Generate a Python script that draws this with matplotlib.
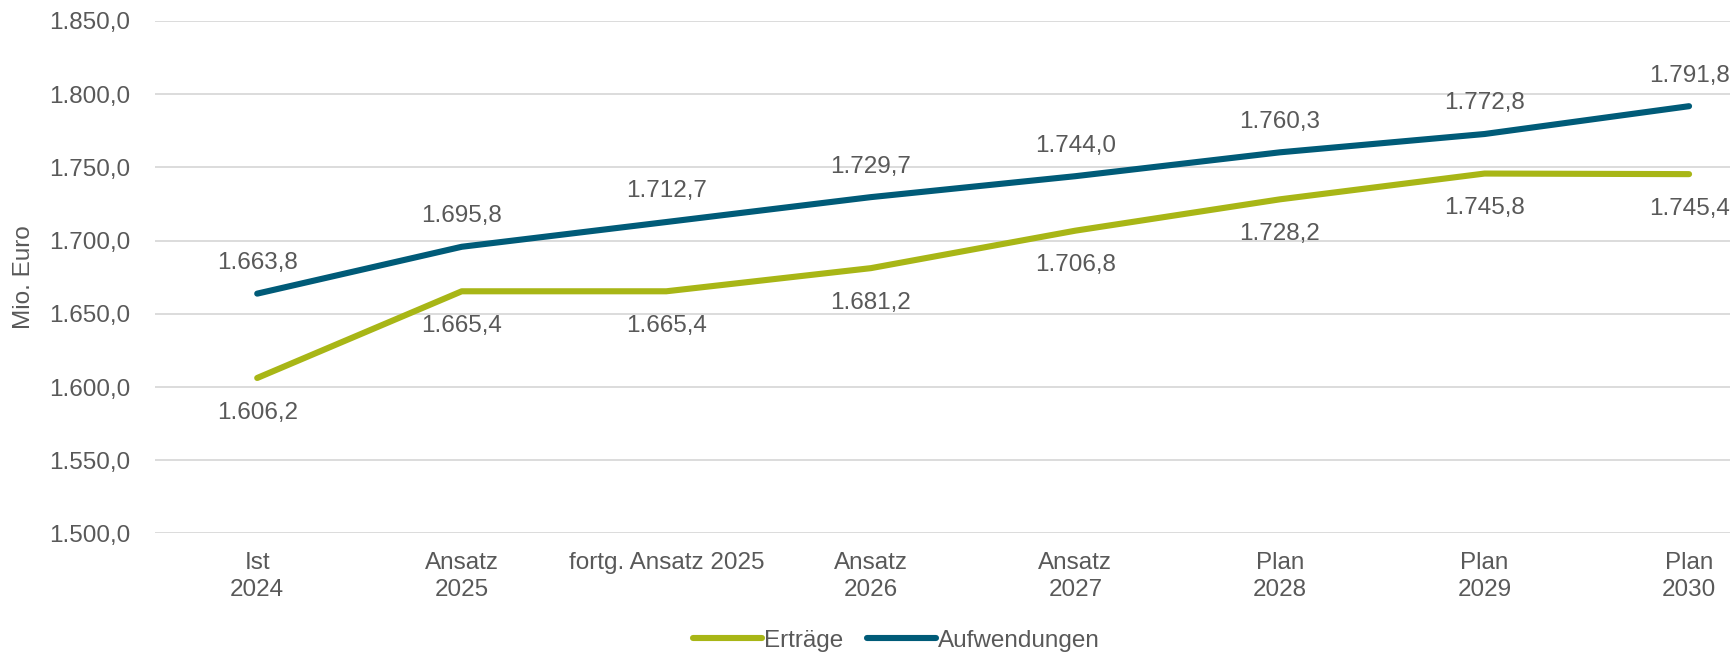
import matplotlib.pyplot as plt
from matplotlib.ticker import FuncFormatter, MultipleLocator

plt.rcParams['font.family'] = ['Liberation Sans', 'DejaVu Sans']

categories = ['Ist\n2024', 'Ansatz\n2025', 'fortg. Ansatz 2025', 'Ansatz\n2026',
              'Ansatz\n2027', 'Plan\n2028', 'Plan\n2029', 'Plan\n2030']
ertraege = [1606.2, 1665.4, 1665.4, 1681.2, 1706.8, 1728.2, 1745.8, 1745.4]
aufwendungen = [1663.8, 1695.8, 1712.7, 1729.7, 1744.0, 1760.3, 1772.8, 1791.8]

green = '#A8B616'
blue = '#005B78'
grey = '#595959'
fs = 17.5


def de(v, pos=None):
    s = f'{v:,.1f}'
    return s.replace(',', 'X').replace('.', ',').replace('X', '.')


fig = plt.figure(figsize=(17.31, 6.55), dpi=100)
ax = fig.add_axes([0.0895, 0.1855, 0.9105, 0.7825])

x = list(range(len(categories)))
ax.plot(x, ertraege, color=green, lw=4.4, solid_capstyle='round', label='Erträge', zorder=3)
ax.plot(x, aufwendungen, color=blue, lw=4.4, solid_capstyle='round', label='Aufwendungen', zorder=3)

for xi, v in zip(x, ertraege):
    ax.annotate(de(v), (xi, v), xytext=(0, -25), textcoords='offset points',
                ha='center', va='center', fontsize=fs, color=grey)
for xi, v in zip(x, aufwendungen):
    ax.annotate(de(v), (xi, v), xytext=(0, 22), textcoords='offset points',
                ha='center', va='center', fontsize=fs, color=grey)

ax.set_ylim(1500, 1850)
ax.set_xlim(-0.5, 7.205)
ax.yaxis.set_major_locator(MultipleLocator(50))
ax.yaxis.set_major_formatter(FuncFormatter(de))
ax.set_xticks(x)
ax.set_xticklabels(categories, linespacing=1.3)
ax.grid(axis='y', color='#D9D9D9', lw=1.3)
ax.set_axisbelow(True)
for s in ax.spines.values():
    s.set_visible(False)
ax.tick_params(length=0, labelsize=fs, colors=grey)
ax.tick_params(axis='x', pad=13)
ax.tick_params(axis='y', pad=18)
ax.set_ylabel('Mio. Euro', fontsize=fs, color=grey, labelpad=10)

fig.legend(loc='center', bbox_to_anchor=(0.518, 0.022), ncol=2, frameon=False,
           fontsize=fs, labelcolor=grey, handlelength=2.8, handletextpad=0.1,
           columnspacing=1.0)

fig.savefig('out.png')
